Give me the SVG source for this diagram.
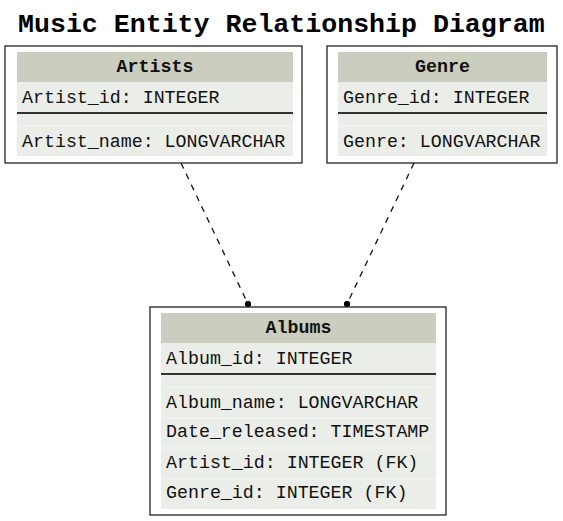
<svg xmlns="http://www.w3.org/2000/svg" width="563" height="521" viewBox="0 0 563 521">
<style>
  .box{fill:#ffffff;stroke:#222222;stroke-width:1.3}
  .hdr{fill:#cbcdbf}
  .row{fill:#ebede8}
  .sep{stroke:#f6f7f3;stroke-width:1}
  .pk{stroke:#333333;stroke-width:2}
  .t{font-family:"Liberation Mono","DejaVu Sans Mono",monospace;font-size:18.3px;fill:#111111}
  .h{font-family:"Liberation Mono","DejaVu Sans Mono",monospace;font-size:18.3px;font-weight:bold;fill:#111111;text-anchor:middle}
  .title{font-family:"Liberation Mono","DejaVu Sans Mono",monospace;font-size:26.6px;font-weight:bold;fill:#000000}
  .edge{fill:none;stroke:#111111;stroke-width:1.3;stroke-dasharray:6,6}
</style>
<defs>
  <marker id="dot" viewBox="0 0 8 8" refX="4" refY="4" markerWidth="7" markerHeight="7" markerUnits="userSpaceOnUse">
    <circle cx="4" cy="4" r="3.6" fill="#000000"/>
  </marker>
</defs>
<rect width="563" height="521" fill="#ffffff"/>
<text class="title" x="18" y="32">Music Entity Relationship Diagram</text>

<g id="connectors">
  <line class="edge" x1="181" y1="163" x2="248" y2="304" marker-end="url(#dot)"/>
  <line class="edge" x1="414" y1="163" x2="347" y2="304" marker-end="url(#dot)"/>
</g>

<g id="artists">
  <rect class="box" x="5" y="46" width="297" height="117"/>
  <rect class="hdr" x="17" y="52" width="276" height="30"/>
  <rect class="row" x="17" y="82" width="276" height="74"/>
  <line class="sep" x1="17" y1="126" x2="293" y2="126"/>
  <line class="pk" x1="17" y1="113" x2="293" y2="113"/>
  <text class="h" x="155" y="72">Artists</text>
  <text class="t" x="22" y="103">Artist_id: INTEGER</text>
  <text class="t" x="22" y="147">Artist_name: LONGVARCHAR</text>
</g>

<g id="genre">
  <rect class="box" x="327" y="46" width="230" height="117"/>
  <rect class="hdr" x="338" y="52" width="209" height="30"/>
  <rect class="row" x="338" y="82" width="209" height="74"/>
  <line class="sep" x1="338" y1="126" x2="547" y2="126"/>
  <line class="pk" x1="338" y1="113" x2="547" y2="113"/>
  <text class="h" x="442.5" y="72">Genre</text>
  <text class="t" x="343" y="103">Genre_id: INTEGER</text>
  <text class="t" x="343" y="147">Genre: LONGVARCHAR</text>
</g>

<g id="albums">
  <rect class="box" x="150" y="307" width="296" height="208"/>
  <rect class="hdr" x="161" y="313" width="275" height="30"/>
  <rect class="row" x="161" y="343" width="275" height="166"/>
  <line class="sep" x1="161" y1="387" x2="436" y2="387"/>
  <line class="sep" x1="161" y1="418" x2="436" y2="418"/>
  <line class="sep" x1="161" y1="448" x2="436" y2="448"/>
  <line class="sep" x1="161" y1="479" x2="436" y2="479"/>
  <line class="pk" x1="161" y1="374" x2="436" y2="374"/>
  <text class="h" x="298.5" y="333">Albums</text>
  <text class="t" x="166" y="364">Album_id: INTEGER</text>
  <text class="t" x="166" y="408">Album_name: LONGVARCHAR</text>
  <text class="t" x="166" y="437">Date_released: TIMESTAMP</text>
  <text class="t" x="166" y="468">Artist_id: INTEGER (FK)</text>
  <text class="t" x="166" y="498">Genre_id: INTEGER (FK)</text>
</g>
</svg>
